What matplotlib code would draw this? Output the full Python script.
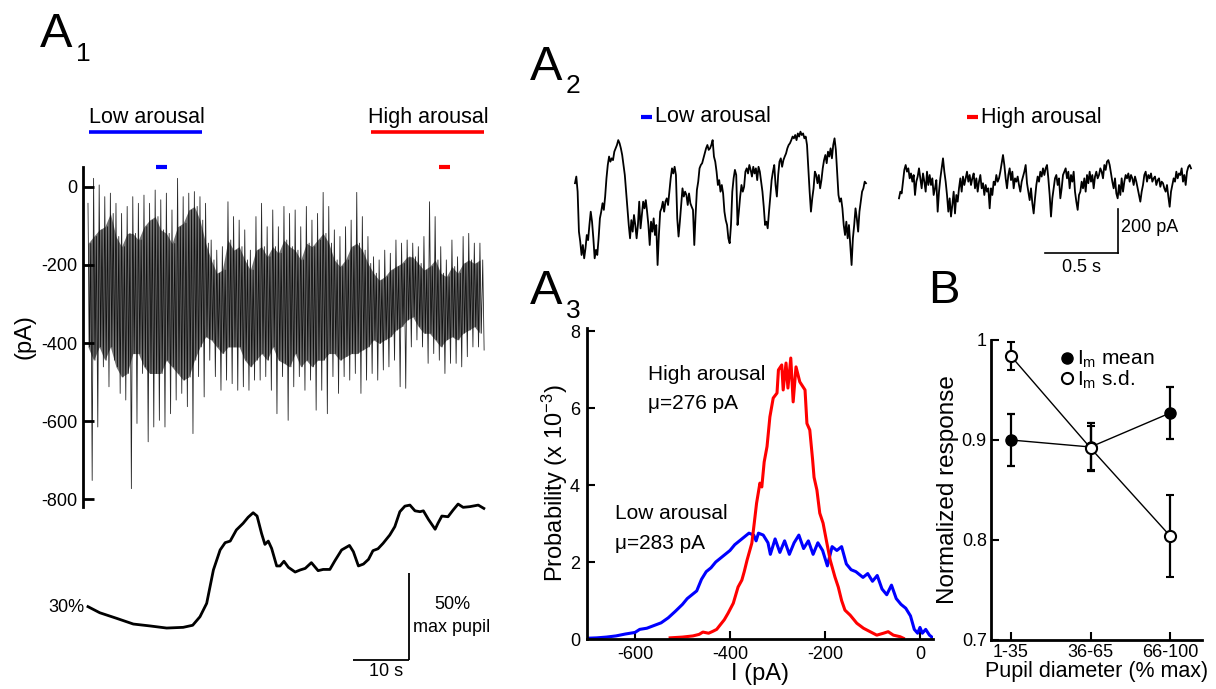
import numpy as np
import matplotlib.pyplot as plt
from matplotlib.lines import Line2D
import matplotlib.transforms as mtransforms

plt.rcParams['font.family'] = ['Liberation Sans', 'DejaVu Sans']
plt.rcParams['mathtext.fontset'] = 'custom'
plt.rcParams['mathtext.rm'] = 'Liberation Sans'
plt.rcParams['mathtext.it'] = 'Liberation Sans:italic'
plt.rcParams['axes.unicode_minus'] = False

W, H = 1216, 689

# ---- A1: membrane current over ~70 s (envelope read per second, pA)
a1_time = np.arange(71)
a1_spike_hi = [-42, 22, 5, -25, -16, -42, -68, -50, -25, -42, -21, -42, -8, -33, -16, -59, 22, -25,
               -16, -12, -25, -42, -136, -162, -153, -38, -76, -85, -110, -162, -76, -42, -102, -59,
               -102, -50, -68, -59, -102, -50, -85, -68, -14, -50, -110, -127, -102, -85, -14, -76,
               -127, -179, -187, -162, -170, -136, -144, -136, -144, -153, -127, -38, -76, -153,
               -187, -136, -179, -127, -119, -144, -144]
a1_core_hi = [-145, -127, -110, -102, -68, -127, -153, -119, -119, -136, -102, -85, -76, -110, -119,
              -145, -102, -93, -59, -50, -85, -144, -187, -221, -213, -136, -162, -153, -187, -213,
              -162, -153, -179, -153, -170, -136, -153, -162, -187, -144, -153, -136, -119, -144,
              -187, -204, -187, -153, -144, -162, -196, -221, -239, -230, -213, -204, -196, -179,
              -179, -196, -213, -204, -187, -221, -230, -204, -221, -196, -187, -196, -187]
a1_core_lo = [-410, -444, -410, -444, -410, -461, -487, -478, -427, -427, -461, -478, -478, -478,
              -444, -461, -478, -495, -487, -444, -410, -384, -392, -410, -427, -410, -410, -410,
              -444, -461, -444, -427, -444, -410, -444, -452, -461, -427, -461, -444, -461, -444,
              -444, -427, -427, -444, -435, -427, -427, -418, -410, -392, -401, -392, -384, -367,
              -358, -341, -333, -358, -375, -375, -392, -410, -392, -384, -392, -375, -367, -358, -375]
a1_spike_lo = [-752, -615, -461, -512, -444, -529, -546, -773, -606, -478, -653, -615, -598, -615,
               -581, -546, -529, -563, -632, -486, -538, -444, -486, -521, -495, -504, -521, -512,
               -521, -495, -495, -486, -521, -581, -486, -598, -512, -486, -521, -495, -572, -521,
               -581, -486, -529, -486, -495, -478, -529, -495, -478, -495, -469, -461, -444, -512,
               -516, -410, -392, -410, -452, -427, -444, -478, -452, -452, -461, -435, -410, -410, -418]
low_window = [12.1, 14.1]
high_window = [62.7, 64.6]
low_span = [0.2, 20.4]
high_span = [50.5, 70.7]

# ---- A1: pupil diameter (% of max)
pupil_time = [0, 2.1, 5.1, 8.1, 11.1, 14.05, 17.0, 18.7, 20.0, 21.2, 22.4, 23.6, 24.5, 25.4, 26.5,
              27.7, 28.6, 29.5, 30.2, 31.0, 31.6, 32.2, 32.8, 33.7, 34.3, 35.0, 35.8, 37.0, 37.9,
              38.8, 39.9, 41.1, 42.0, 43.2, 44.1, 45.3, 46.7, 47.4, 48.3, 49.2, 50.1, 50.9, 51.8,
              52.7, 53.9, 54.8, 55.7, 56.6, 57.5, 58.4, 59.3, 59.9, 60.8, 62.0, 62.5, 63.2, 64.3,
              65.2, 66.1, 67.0, 68.2, 69.7, 70.7]
pupil_pct = [30.2, 26.7, 23.5, 20.2, 19.1, 17.9, 18.3, 19.5, 24.4, 32.1, 51.3, 62.8, 67.0, 67.9, 74.3,
             78.1, 81.6, 84.2, 82.3, 72.3, 66.0, 67.9, 63.7, 53.6, 53.6, 56.3, 52.8, 50.1, 51.3,
             52.2, 55.5, 50.9, 51.6, 51.6, 56.6, 62.8, 65.4, 61.8, 53.6, 54.7, 57.4, 62.4, 63.5,
             66.6, 71.4, 76.2, 84.8, 88.0, 88.6, 85.3, 84.8, 85.3, 80.4, 74.7, 78.1, 82.3, 81.9,
             85.7, 89.2, 87.3, 87.7, 88.6, 86.7]

# ---- A2: 2 s example traces (pA, relative)
low_trace = [-262, -232, -300, -480, -525, -585, -540, -600, -555, -495, -518, -450, -390, -435, -510,
             -600, -562, -585, -510, -420, -390, -352, -382, -322, -240, -180, -142, -165, -150, -158,
             -120, -105, -90, -68, -82, -105, -135, -180, -225, -300, -375, -450, -510, -428, -480,
             -405, -450, -510, -450, -345, -465, -405, -345, -375, -338, -390, -450, -540, -435, -480,
             -420, -495, -450, -630, -495, -390, -375, -345, -390, -345, -330, -360, -300, -240, -195,
             -218, -188, -225, -420, -502, -435, -360, -285, -322, -300, -315, -360, -308, -352, -368,
             -382, -540, -405, -292, -255, -195, -180, -172, -150, -128, -105, -90, -112, -105, -90,
             -68, -142, -165, -210, -270, -248, -300, -270, -308, -390, -428, -450, -510, -532, -450,
             -300, -240, -202, -225, -450, -390, -322, -270, -300, -278, -210, -195, -218, -180, -202,
             -232, -188, -218, -195, -248, -188, -210, -255, -300, -368, -450, -435, -465, -390, -322,
             -248, -210, -180, -270, -322, -225, -165, -150, -188, -158, -142, -128, -105, -90, -82,
             -68, -52, -60, -45, -68, -38, -52, -30, -45, -38, -60, -52, -90, -195, -300, -390, -330,
             -285, -210, -225, -262, -225, -285, -248, -195, -158, -135, -172, -120, -142, -105, -150,
             -90, -60, -112, -210, -315, -345, -330, -375, -450, -495, -435, -510, -450, -540, -630,
             -510, -450, -375, -420, -480, -390, -345, -300, -285, -255, -262]
high_trace = [-240, -210, -218, -165, -112, -90, -120, -105, -150, -128, -165, -135, -225, -165, -142,
              -105, -150, -195, -128, -165, -210, -120, -180, -135, -180, -150, -225, -195, -158, -300,
              -210, -150, -105, -60, -120, -165, -225, -300, -240, -322, -270, -210, -308, -225, -255,
              -195, -150, -210, -142, -180, -150, -120, -165, -135, -180, -150, -128, -195, -150, -210,
              -165, -135, -195, -172, -225, -180, -210, -195, -285, -195, -225, -165, -180, -135, -165,
              -150, -120, -82, -45, -90, -150, -195, -135, -105, -158, -120, -195, -150, -165, -142,
              -180, -210, -165, -142, -120, -90, -172, -210, -248, -195, -262, -308, -240, -180, -142,
              -165, -120, -142, -105, -135, -105, -90, -150, -225, -322, -240, -195, -150, -135, -180,
              -150, -240, -195, -135, -120, -105, -150, -120, -195, -135, -165, -120, -210, -255, -292,
              -225, -210, -165, -195, -150, -210, -135, -172, -120, -165, -135, -195, -142, -120, -150,
              -135, -105, -120, -150, -90, -112, -75, -68, -90, -128, -165, -195, -150, -218, -240,
              -180, -225, -150, -210, -165, -135, -150, -128, -165, -135, -150, -180, -142, -165, -195,
              -225, -255, -210, -180, -135, -120, -165, -135, -150, -128, -165, -150, -142, -180, -158,
              -150, -188, -165, -172, -195, -210, -180, -232, -278, -210, -180, -150, -165, -120, -150,
              -128, -135, -105, -165, -135, -180, -120, -98, -90, -105]
trace_dur = 2.0

# ---- A3: current distributions (probability x 1e-3)
low_I = [-700, -680, -660, -640, -620, -600, -590, -575, -560, -545, -530, -515, -500, -490, -480,
         -470, -460, -450, -440, -430, -420, -410, -400, -390, -380, -370, -360, -350, -345, -340,
         -330, -320, -315, -305, -295, -285, -275, -265, -255, -245, -235, -225, -215, -205, -195,
         -185, -175, -165, -155, -145, -135, -120, -110, -100, -90, -80, -70, -60, -50, -40, -30,
         -20, -12, -5, 0, 5, 12, 20, 25]
low_P = [0.02, 0.03, 0.05, 0.08, 0.13, 0.17, 0.25, 0.28, 0.35, 0.42, 0.55, 0.72, 0.90, 1.05, 1.15,
         1.25, 1.55, 1.75, 1.85, 2.0, 2.1, 2.2, 2.3, 2.45, 2.55, 2.65, 2.75, 2.7, 2.55, 2.75,
         2.7, 2.5, 2.2, 2.6, 2.25, 2.55, 2.2, 2.5, 2.7, 2.35, 2.55, 2.2, 2.5, 2.3, 1.9,
         2.4, 2.3, 2.4, 1.95, 1.8, 1.75, 1.6, 1.7, 1.5, 1.65, 1.3, 1.15, 1.4, 1.05, 0.9, 0.8,
         0.6, 0.25, 0.15, 0.3, 0.15, 0.25, 0.1, 0.05]
high_I = [-526, -500, -478, -465, -457, -445, -436, -428, -421, -412, -404, -393, -383, -375, -370,
          -364, -354, -349, -344, -337, -333, -328, -322, -316, -309, -301, -298, -291, -288, -282,
          -278, -272, -267, -261, -253, -242, -238, -232, -226, -223, -217, -211, -204, -196, -189,
          -179, -172, -165, -158, -147, -133, -119, -105, -91, -77, -67, -56, -42, -35]
high_P = [0.03, 0.05, 0.08, 0.12, 0.18, 0.15, 0.2, 0.25, 0.36, 0.5, 0.67, 0.93, 1.35, 1.53, 1.75,
          2.05, 2.49, 3.0, 3.53, 4.05, 3.95, 4.6, 5.0, 5.77, 6.26, 6.39, 6.99, 7.12, 6.47, 7.17,
          6.52, 7.3, 6.16, 7.07, 6.68, 6.47, 5.6, 5.43, 4.65, 4.2, 3.87, 3.27, 3.01, 2.49, 2.05,
          1.61, 1.35, 1.0, 0.75, 0.62, 0.41, 0.28, 0.19, 0.10, 0.15, 0.19, 0.10, 0.06, 0.02]

# ---- B: normalized response vs pupil diameter
pupil_bins = ['1-35', '36-65', '66-100']
im_mean = [0.900, 0.893, 0.927]
im_mean_err = [0.026, 0.024, 0.026]
im_sd = [0.984, 0.892, 0.804]
im_sd_err = [0.014, 0.022, 0.041]

fig = plt.figure(figsize=(W / 100, H / 100), dpi=100)


def px_axes(x0, y0, x1, y1):
    return fig.add_axes([x0 / W, 1 - y1 / H, (x1 - x0) / W, (y1 - y0) / H])


# overlay for panel letters and free labels (pixel coordinates)
ov = fig.add_axes([0, 0, 1, 1])
ov.set_xlim(0, W)
ov.set_ylim(H, 0)
ov.axis('off')
for letter, sub, x, yb, ys in [('A', '1', 40, 47, 61), ('A', '2', 530, 80, 93), ('A', '3', 530, 304, 318)]:
    ov.text(x, yb, letter, fontsize=35, va='baseline', ha='left')
    ov.text(x + 36, ys, sub, fontsize=19, va='baseline', ha='left')
ov.text(928, 303, 'B', fontsize=34, va='baseline', ha='left')

# ---- A1 trace: the recording swings between the spike and core extremes read each second
ax1 = px_axes(83, 167, 490, 507)
t = np.asarray(a1_time, float)
zz_t = np.column_stack([t, t + 0.25, t + 0.5, t + 0.75]).ravel()
zz_v = np.column_stack([a1_spike_hi, a1_core_lo, a1_core_hi, a1_spike_lo]).ravel()
ax1.fill_between(t, a1_core_lo, a1_core_hi, color='black', alpha=0.55, lw=0)
ax1.plot(zz_t, zz_v, color='black', lw=0.6, alpha=0.85)
ax1.set_xlim(-0.89, 71.8)
ax1.set_ylim(-820, 51)
for s in ['top', 'right', 'bottom']:
    ax1.spines[s].set_visible(False)
ax1.spines['left'].set_linewidth(2)
ax1.set_xticks([])
ax1.set_yticks([0, -200, -400, -600, -800])
ax1.tick_params(axis='y', direction='in', length=8, width=2, labelsize=13, pad=4)
ax1.set_ylabel('(pA)', fontsize=17, labelpad=4)

trans1 = mtransforms.blended_transform_factory(ax1.transData, ax1.transAxes)
ax1.plot(low_window, [1.0, 1.0], color='blue', lw=3, transform=trans1, clip_on=False, solid_capstyle='butt')
ax1.plot(high_window, [1.0, 1.0], color='red', lw=3, transform=trans1, clip_on=False, solid_capstyle='butt')
ax1.plot(low_span, [1.103, 1.103], color='blue', lw=2.6, transform=trans1, clip_on=False, solid_capstyle='butt')
ax1.plot(high_span, [1.103, 1.103], color='red', lw=2.6, transform=trans1, clip_on=False, solid_capstyle='butt')
ax1.text(low_span[0], 1.13, 'Low arousal', fontsize=15.5, transform=trans1, va='baseline', ha='left')
ax1.text(high_span[0] - 0.5, 1.13, 'High arousal', fontsize=15.5, transform=trans1, va='baseline', ha='left')

# ---- A1 pupil
axp = px_axes(83, 495, 490, 675)
axp.plot(pupil_time, pupil_pct, color='black', lw=2)
axp.set_xlim(-0.89, 71.8)
axp.set_ylim(-9.1, 94.4)
axp.axis('off')
axp.plot([57.3, 57.3], [-0.5, 49.5], color='black', lw=1.3, solid_capstyle='butt')
axp.plot([47.3, 57.3], [-0.5, -0.5], color='black', lw=1.3, solid_capstyle='butt')
axp.text(-0.6, 30, '30%', fontsize=13, ha='right', va='center')
axp.text(65, 31.7, '50%', fontsize=13, ha='center', va='center')
axp.text(65, 18.5, 'max pupil', fontsize=13, ha='center', va='center')
axp.text(53.2, -7.0, '10 s', fontsize=13, ha='center', va='center')

# ---- A2 traces
axl = px_axes(570, 120, 871, 275)
axl.plot(np.linspace(0, trace_dur, len(low_trace)), low_trace, color='black', lw=1.3)
axl.set_xlim(-5 / 145.5, trace_dur + 5 / 145.5)
axl.set_ylim(-675, 22.5)
axl.axis('off')

axr = px_axes(894, 140, 1196, 275)
axr.plot(np.linspace(0, trace_dur, len(high_trace)), high_trace, color='black', lw=1.3)
axr.set_xlim(-5 / 146, trace_dur + 5 / 146)
axr.set_ylim(-585, 22.5)
axr.axis('off')
axr.plot([1.5, 1.5], [-486, -286], color='black', lw=1.2, clip_on=False)
axr.plot([1.0, 1.5], [-486, -486], color='black', lw=1.2, clip_on=False)
axr.text(1.52, -373, '200 pA', fontsize=13, ha='left', va='center')
axr.text(1.25, -553, '0.5 s', fontsize=13, ha='center', va='center', clip_on=False)

ov.plot([641, 652], [117, 117], color='blue', lw=3, solid_capstyle='butt')
ov.text(655, 117, 'Low arousal', fontsize=15.5, ha='left', va='center')
ov.plot([967, 978], [117, 117], color='red', lw=3, solid_capstyle='butt')
ov.text(981, 117, 'High arousal', fontsize=15.5, ha='left', va='center')

# ---- A3 histograms
ax3 = px_axes(587, 328, 933, 639)
ax3.plot(low_I, low_P, color='blue', lw=2.2)
ax3.plot(high_I, high_P, color='red', lw=2.2)
ax3.set_xlim(-701, 27.4)
ax3.set_ylim(0, 8.08)
for s in ['top', 'right']:
    ax3.spines[s].set_visible(False)
for s in ['left', 'bottom']:
    ax3.spines[s].set_linewidth(2)
ax3.set_xticks([-600, -400, -200, 0])
ax3.set_yticks([0, 2, 4, 6, 8])
ax3.tick_params(direction='in', length=6, width=1.5, labelsize=13, pad=5)
ax3.set_xlabel('I (pA)', fontsize=17, labelpad=0)
ax3.set_ylabel('Probability (x 10$^{-3}$)', fontsize=17, labelpad=0)
ax3.text(-573, 6.86, 'High arousal', fontsize=15, va='center')
ax3.text(-573, 6.13, '\u03bc=276 pA', fontsize=15, va='center')
ax3.text(-642, 3.27, 'Low arousal', fontsize=15, va='center')
ax3.text(-642, 2.49, '\u03bc=283 pA', fontsize=15, va='center')

# ---- B
axb = px_axes(991, 340, 1202, 640)
xs = np.arange(1, len(pupil_bins) + 1)
axb.errorbar(xs, im_mean, yerr=im_mean_err, fmt='-o', color='black', mfc='black', mec='black',
             ms=8, lw=1, elinewidth=1.6, capsize=3, capthick=1.6, zorder=3)
axb.errorbar(xs, im_sd, yerr=im_sd_err, fmt='-o', color='black', mfc='white', mec='black',
             mew=1.5, ms=8, lw=1, elinewidth=1.6, capsize=3, capthick=1.6, zorder=4)
axb.set_xlim(0.75, 3.4)
axb.set_ylim(0.7, 1.0)
for s in ['top', 'right']:
    axb.spines[s].set_visible(False)
for s in ['left', 'bottom']:
    axb.spines[s].set_linewidth(2)
axb.set_xticks(xs)
axb.set_xticklabels(pupil_bins)
axb.set_yticks([0.7, 0.8, 0.9, 1.0])
axb.set_yticklabels(['0.7', '0.8', '0.9', '1'])
axb.tick_params(direction='in', length=6, width=1.5, labelsize=13, pad=3)
axb.set_xlabel('Pupil diameter (% max)', fontsize=15.5, labelpad=0)
axb.set_ylabel('Normalized response', fontsize=17.5, labelpad=2)
handles = [Line2D([], [], marker='o', ls='none', color='black', mfc='black', ms=8),
           Line2D([], [], marker='o', ls='none', color='black', mfc='white', mew=1.5, ms=8)]
axb.legend(handles, ['I$_\\mathrm{m}$ mean', 'I$_\\mathrm{m}$ s.d.'], loc='upper left',
           bbox_to_anchor=(0.32, 0.97), frameon=False, fontsize=15, handlelength=0.8,
           handletextpad=0.1, labelspacing=-0.1, borderpad=0, borderaxespad=0)

fig.savefig('out.png', dpi=100)
